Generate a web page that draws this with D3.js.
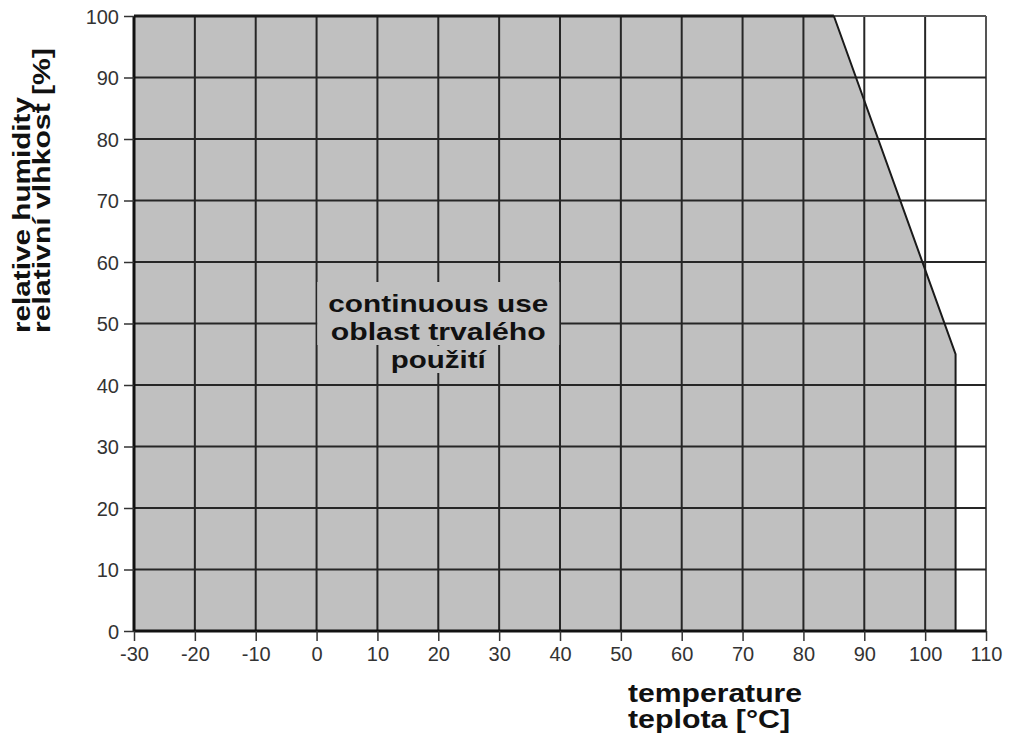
<!DOCTYPE html>
<html><head><meta charset="utf-8">
<script src="https://cdn.jsdelivr.net/npm/d3@7"></script>
<style>body{margin:0;background:#fff}svg{display:block}</style>
</head><body>
<svg id="c" width="1014" height="738"></svg>
<script>
const xTicks = [-30,-20,-10,0,10,20,30,40,50,60,70,80,90,100,110];
const yTicks = [0,10,20,30,40,50,60,70,80,90,100];
// boundary of the continuous-use region [temperature, humidity]
const regionT = [-30, -30, 85, 105, 105];
const regionH = [0, 100, 100, 45, 0];
const regionLabel = ["continuous use", "oblast trvalého", "použití"];
const xTitle = ["temperature", "teplota [°C]"];
const yTitle = ["relative humidity", "relativní vlhkost [%]"];

const svg = d3.select("#c");
const x = d3.scaleLinear().domain([-30,110]).range([134,986]);
const y = d3.scaleLinear().domain([0,100]).range([631,16]);
const font = "'Liberation Sans', Arial, sans-serif";

// region fill
const pts = regionT.map((t,i)=>[x(t), y(regionH[i])]);
svg.append("path").attr("d", d3.line()(pts)+"Z").attr("fill","#c0c0c0").attr("stroke","none");

// grid
const g = svg.append("g").attr("stroke-width",2);
xTicks.slice(1).forEach(t=>g.append("line").attr("x1",x(t)).attr("x2",x(t)).attr("y1",y(0)).attr("y2",y(100))
  .attr("stroke", t===110?"#555":"#262626"));
yTicks.slice(1).forEach(v=>g.append("line").attr("x1",x(-30)).attr("x2",x(110)).attr("y1",y(v)).attr("y2",y(v))
  .attr("stroke", v===100?"#555":"#262626"));

// region outline (top and slope)
svg.append("path").attr("d", d3.line()([pts[1],pts[2]])).attr("stroke","#1a1a1a").attr("stroke-width",3).attr("fill","none");
svg.append("path").attr("d", d3.line()([pts[2],pts[3],pts[4]])).attr("stroke","#1a1a1a").attr("stroke-width",2).attr("fill","none");

// axes
const fmt = d => String(d);
const xAxis = d3.axisBottom(x).tickValues(xTicks).tickFormat(fmt).tickSize(10).tickPadding(6);
const yAxis = d3.axisLeft(y).tickValues(yTicks).tickFormat(fmt).tickSize(10).tickPadding(5);
const gx = svg.append("g").attr("transform",`translate(0,${y(0)})`).call(xAxis);
const gy = svg.append("g").attr("transform",`translate(${x(-30)},0)`).call(yAxis);
[gx,gy].forEach(a=>{
  a.select(".domain").attr("stroke","#111").attr("stroke-width",3);
  a.selectAll(".tick line").attr("stroke","#333").attr("stroke-width",1.5);
  a.selectAll(".tick text").attr("fill","#333").style("font-family",font).style("font-size","20px");
});
gx.select(".domain").attr("d",`M${x(-30)},0H${x(110)}`);
gy.select(".domain").attr("d",`M0,${y(0)}V${y(100)}`);
gy.selectAll(".tick text").attr("dy","0.36em");

// region label with background
const lab = svg.append("g");
const bgs = lab.append("g");
const baselines = [312, 340, 368];
const widths = [220, 215, 95];
const texts = regionLabel.map((s,i)=>
  lab.append("text").attr("x", x(20)).attr("y", baselines[i]).attr("text-anchor","middle")
    .style("font-family",font).style("font-weight","bold").style("font-size","24px").attr("fill","#111")
    .attr("textLength", widths[i]).attr("lengthAdjust","spacingAndGlyphs").text(s).node());
const b = texts.map(t=>t.getBBox());
const ax0 = Math.min(b[0].x,b[1].x)-11, ax1 = Math.max(b[0].x+b[0].width,b[1].x+b[1].width)+11;
bgs.append("rect").attr("x",ax0).attr("y",b[0].y-8).attr("width",ax1-ax0).attr("height",(b[1].y+b[1].height)-(b[0].y-8)).attr("fill","#c0c0c0");
bgs.append("rect").attr("x",b[2].x-7).attr("y",b[2].y).attr("width",b[2].width+14).attr("height",b[2].height).attr("fill","#c0c0c0");

// x title
const xw = [174, 162];
xTitle.forEach((s,i)=>svg.append("text").attr("x",628).attr("y",[702,728][i])
  .style("font-family",font).style("font-weight","bold").style("font-size","25px").attr("fill","#111")
  .attr("textLength", xw[i]).attr("lengthAdjust","spacingAndGlyphs").text(s));

// y title
const yw = [236, 285];
yTitle.forEach((s,i)=>svg.append("text").attr("transform",`translate(${[30,50][i]},333) rotate(-90)`)
  .style("font-family",font).style("font-weight","bold").style("font-size","23px").attr("fill","#111")
  .attr("textLength", yw[i]).attr("lengthAdjust","spacingAndGlyphs").text(s));
</script>
</body></html>
